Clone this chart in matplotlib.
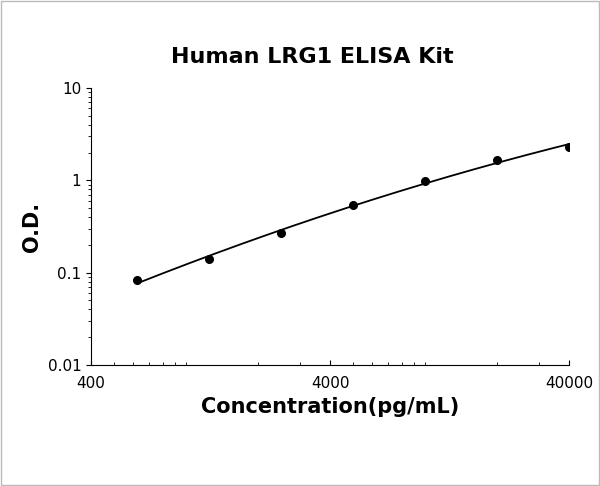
import numpy as np
import matplotlib
matplotlib.use("Agg")
import matplotlib.pyplot as plt
from matplotlib.ticker import LogLocator, FixedLocator, NullFormatter

conc = [625, 1250, 2500, 5000, 10000, 20000, 40000]
od = [0.083, 0.14, 0.27, 0.54, 0.98, 1.66, 2.3]

fig = plt.figure(figsize=(6, 4.86), dpi=100)
ax = fig.add_axes([91/600, 1-365/486, 478/600, 277/486])
ax.set_xscale('log'); ax.set_yscale('log')
ax.set_xlim(400, 40000); ax.set_ylim(0.01, 10)

lx, ly = np.log10(conc), np.log10(od)
c = np.polyfit(lx, ly, 2)
xs = np.linspace(lx[0], lx[-1], 200)
ax.plot(10**xs, 10**np.polyval(c, xs), color='black', lw=1.3)
ax.plot(conc, od, 'o', color='black', ms=5.5)

ax.xaxis.set_major_locator(FixedLocator([400, 4000, 40000]))
ax.set_xticklabels(['400', '4000', '40000'])
ax.xaxis.set_minor_locator(LogLocator(base=10, subs=np.arange(1, 10)))
ax.xaxis.set_minor_formatter(NullFormatter())
ax.set_yticks([0.01, 0.1, 1, 10]); ax.set_yticklabels(['0.01', '0.1', '1', '10'])
ax.tick_params(axis='x', which='both', direction='in', labelsize=11, pad=8)
ax.tick_params(axis='y', which='both', direction='out', labelsize=11)
for s in ['top', 'right']:
    ax.spines[s].set_visible(False)
ax.set_xlabel('Concentration(pg/mL)', fontsize=15, fontweight='bold')
ax.set_ylabel('O.D.', fontsize=15, fontweight='bold')
fig.text(0.52, 1-57/486, 'Human LRG1 ELISA Kit', ha='center', va='center', fontsize=16, fontweight='bold')
fig.patches.append(plt.Rectangle((0.002, 0.002), 0.996, 0.996, transform=fig.transFigure,
                                 fill=False, edgecolor='#bbbbbb', lw=1))
fig.savefig('out.png', dpi=100)
